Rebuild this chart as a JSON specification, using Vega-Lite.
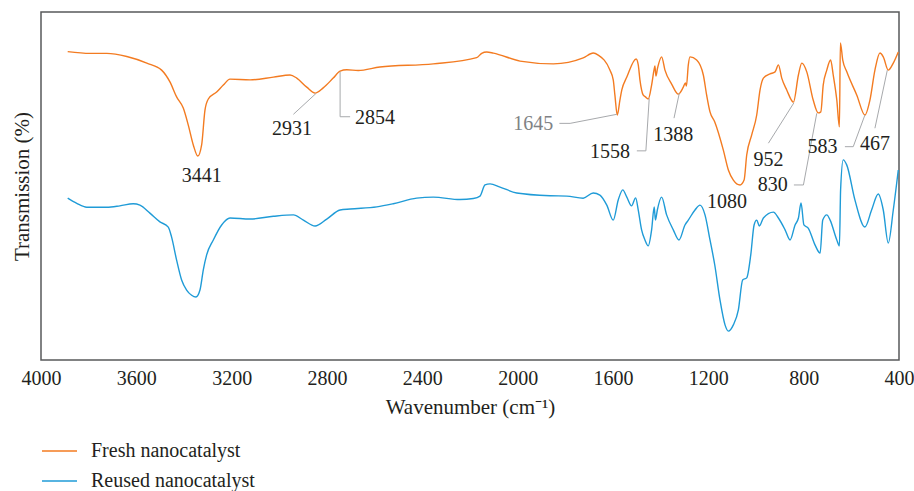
{
  "$schema": "https://vega.github.io/schema/vega-lite/v6.json",
  "autosize": "none",
  "width": 858,
  "height": 348,
  "padding": {"left": 41, "top": 12, "right": 15, "bottom": 131},
  "background": "white",
  "config": {
    "view": {"stroke": "#58595b", "strokeWidth": 1.5},
    "font": "Liberation Serif"
  },
  "datasets": {
    "spectra": [
      {"wavenumber": 3888, "transmission": 88.6, "series": "Fresh nanocatalyst"},
      {"wavenumber": 3794, "transmission": 88.1, "series": "Fresh nanocatalyst"},
      {"wavenumber": 3724, "transmission": 88.1, "series": "Fresh nanocatalyst"},
      {"wavenumber": 3640, "transmission": 87.2, "series": "Fresh nanocatalyst"},
      {"wavenumber": 3556, "transmission": 85.3, "series": "Fresh nanocatalyst"},
      {"wavenumber": 3494, "transmission": 83.3, "series": "Fresh nanocatalyst"},
      {"wavenumber": 3459, "transmission": 79.9, "series": "Fresh nanocatalyst"},
      {"wavenumber": 3431, "transmission": 75.6, "series": "Fresh nanocatalyst"},
      {"wavenumber": 3403, "transmission": 72.4, "series": "Fresh nanocatalyst"},
      {"wavenumber": 3382, "transmission": 67.5, "series": "Fresh nanocatalyst"},
      {"wavenumber": 3361, "transmission": 61.8, "series": "Fresh nanocatalyst"},
      {"wavenumber": 3342, "transmission": 58.6, "series": "Fresh nanocatalyst"},
      {"wavenumber": 3326, "transmission": 61.8, "series": "Fresh nanocatalyst"},
      {"wavenumber": 3312, "transmission": 71.8, "series": "Fresh nanocatalyst"},
      {"wavenumber": 3298, "transmission": 75.0, "series": "Fresh nanocatalyst"},
      {"wavenumber": 3263, "transmission": 77.0, "series": "Fresh nanocatalyst"},
      {"wavenumber": 3235, "transmission": 79.0, "series": "Fresh nanocatalyst"},
      {"wavenumber": 3207, "transmission": 80.7, "series": "Fresh nanocatalyst"},
      {"wavenumber": 3123, "transmission": 80.5, "series": "Fresh nanocatalyst"},
      {"wavenumber": 3025, "transmission": 81.3, "series": "Fresh nanocatalyst"},
      {"wavenumber": 2955, "transmission": 81.9, "series": "Fresh nanocatalyst"},
      {"wavenumber": 2927, "transmission": 81.0, "series": "Fresh nanocatalyst"},
      {"wavenumber": 2885, "transmission": 78.4, "series": "Fresh nanocatalyst"},
      {"wavenumber": 2850, "transmission": 76.7, "series": "Fresh nanocatalyst"},
      {"wavenumber": 2816, "transmission": 78.2, "series": "Fresh nanocatalyst"},
      {"wavenumber": 2774, "transmission": 81.0, "series": "Fresh nanocatalyst"},
      {"wavenumber": 2745, "transmission": 83.0, "series": "Fresh nanocatalyst"},
      {"wavenumber": 2717, "transmission": 83.4, "series": "Fresh nanocatalyst"},
      {"wavenumber": 2669, "transmission": 83.2, "series": "Fresh nanocatalyst"},
      {"wavenumber": 2578, "transmission": 84.2, "series": "Fresh nanocatalyst"},
      {"wavenumber": 2354, "transmission": 85.1, "series": "Fresh nanocatalyst"},
      {"wavenumber": 2172, "transmission": 86.9, "series": "Fresh nanocatalyst"},
      {"wavenumber": 2151, "transmission": 88.1, "series": "Fresh nanocatalyst"},
      {"wavenumber": 2130, "transmission": 88.5, "series": "Fresh nanocatalyst"},
      {"wavenumber": 2102, "transmission": 88.2, "series": "Fresh nanocatalyst"},
      {"wavenumber": 1990, "transmission": 85.9, "series": "Fresh nanocatalyst"},
      {"wavenumber": 1850, "transmission": 85.1, "series": "Fresh nanocatalyst"},
      {"wavenumber": 1725, "transmission": 86.8, "series": "Fresh nanocatalyst"},
      {"wavenumber": 1683, "transmission": 88.2, "series": "Fresh nanocatalyst"},
      {"wavenumber": 1662, "transmission": 87.6, "series": "Fresh nanocatalyst"},
      {"wavenumber": 1613, "transmission": 83.3, "series": "Fresh nanocatalyst"},
      {"wavenumber": 1599, "transmission": 80.5, "series": "Fresh nanocatalyst"},
      {"wavenumber": 1592, "transmission": 76.1, "series": "Fresh nanocatalyst"},
      {"wavenumber": 1582, "transmission": 70.4, "series": "Fresh nanocatalyst"},
      {"wavenumber": 1571, "transmission": 74.7, "series": "Fresh nanocatalyst"},
      {"wavenumber": 1563, "transmission": 77.6, "series": "Fresh nanocatalyst"},
      {"wavenumber": 1542, "transmission": 81.3, "series": "Fresh nanocatalyst"},
      {"wavenumber": 1503, "transmission": 86.5, "series": "Fresh nanocatalyst"},
      {"wavenumber": 1494, "transmission": 84.8, "series": "Fresh nanocatalyst"},
      {"wavenumber": 1487, "transmission": 80.5, "series": "Fresh nanocatalyst"},
      {"wavenumber": 1473, "transmission": 76.1, "series": "Fresh nanocatalyst"},
      {"wavenumber": 1464, "transmission": 75.6, "series": "Fresh nanocatalyst"},
      {"wavenumber": 1452, "transmission": 75.0, "series": "Fresh nanocatalyst"},
      {"wavenumber": 1438, "transmission": 79.0, "series": "Fresh nanocatalyst"},
      {"wavenumber": 1428, "transmission": 83.3, "series": "Fresh nanocatalyst"},
      {"wavenumber": 1424, "transmission": 84.5, "series": "Fresh nanocatalyst"},
      {"wavenumber": 1420, "transmission": 81.6, "series": "Fresh nanocatalyst"},
      {"wavenumber": 1413, "transmission": 83.9, "series": "Fresh nanocatalyst"},
      {"wavenumber": 1396, "transmission": 87.1, "series": "Fresh nanocatalyst"},
      {"wavenumber": 1382, "transmission": 83.3, "series": "Fresh nanocatalyst"},
      {"wavenumber": 1354, "transmission": 79.3, "series": "Fresh nanocatalyst"},
      {"wavenumber": 1326, "transmission": 76.4, "series": "Fresh nanocatalyst"},
      {"wavenumber": 1305, "transmission": 78.4, "series": "Fresh nanocatalyst"},
      {"wavenumber": 1296, "transmission": 79.6, "series": "Fresh nanocatalyst"},
      {"wavenumber": 1292, "transmission": 78.7, "series": "Fresh nanocatalyst"},
      {"wavenumber": 1284, "transmission": 84.8, "series": "Fresh nanocatalyst"},
      {"wavenumber": 1277, "transmission": 87.1, "series": "Fresh nanocatalyst"},
      {"wavenumber": 1249, "transmission": 86.2, "series": "Fresh nanocatalyst"},
      {"wavenumber": 1221, "transmission": 81.9, "series": "Fresh nanocatalyst"},
      {"wavenumber": 1207, "transmission": 76.1, "series": "Fresh nanocatalyst"},
      {"wavenumber": 1193, "transmission": 71.3, "series": "Fresh nanocatalyst"},
      {"wavenumber": 1173, "transmission": 68.4, "series": "Fresh nanocatalyst"},
      {"wavenumber": 1137, "transmission": 60.3, "series": "Fresh nanocatalyst"},
      {"wavenumber": 1116, "transmission": 54.6, "series": "Fresh nanocatalyst"},
      {"wavenumber": 1095, "transmission": 51.7, "series": "Fresh nanocatalyst"},
      {"wavenumber": 1067, "transmission": 50.3, "series": "Fresh nanocatalyst"},
      {"wavenumber": 1050, "transmission": 51.7, "series": "Fresh nanocatalyst"},
      {"wavenumber": 1039, "transmission": 58.9, "series": "Fresh nanocatalyst"},
      {"wavenumber": 1018, "transmission": 64.7, "series": "Fresh nanocatalyst"},
      {"wavenumber": 997, "transmission": 70.4, "series": "Fresh nanocatalyst"},
      {"wavenumber": 983, "transmission": 77.6, "series": "Fresh nanocatalyst"},
      {"wavenumber": 969, "transmission": 81.0, "series": "Fresh nanocatalyst"},
      {"wavenumber": 941, "transmission": 82.2, "series": "Fresh nanocatalyst"},
      {"wavenumber": 920, "transmission": 82.8, "series": "Fresh nanocatalyst"},
      {"wavenumber": 906, "transmission": 84.8, "series": "Fresh nanocatalyst"},
      {"wavenumber": 892, "transmission": 81.0, "series": "Fresh nanocatalyst"},
      {"wavenumber": 871, "transmission": 77.6, "series": "Fresh nanocatalyst"},
      {"wavenumber": 843, "transmission": 74.1, "series": "Fresh nanocatalyst"},
      {"wavenumber": 822, "transmission": 81.9, "series": "Fresh nanocatalyst"},
      {"wavenumber": 808, "transmission": 85.3, "series": "Fresh nanocatalyst"},
      {"wavenumber": 787, "transmission": 82.8, "series": "Fresh nanocatalyst"},
      {"wavenumber": 760, "transmission": 74.7, "series": "Fresh nanocatalyst"},
      {"wavenumber": 739, "transmission": 71.0, "series": "Fresh nanocatalyst"},
      {"wavenumber": 728, "transmission": 71.3, "series": "Fresh nanocatalyst"},
      {"wavenumber": 718, "transmission": 79.0, "series": "Fresh nanocatalyst"},
      {"wavenumber": 703, "transmission": 83.3, "series": "Fresh nanocatalyst"},
      {"wavenumber": 687, "transmission": 86.2, "series": "Fresh nanocatalyst"},
      {"wavenumber": 676, "transmission": 81.9, "series": "Fresh nanocatalyst"},
      {"wavenumber": 661, "transmission": 74.7, "series": "Fresh nanocatalyst"},
      {"wavenumber": 650, "transmission": 67.0, "series": "Fresh nanocatalyst"},
      {"wavenumber": 646, "transmission": 91.1, "series": "Fresh nanocatalyst"},
      {"wavenumber": 636, "transmission": 86.2, "series": "Fresh nanocatalyst"},
      {"wavenumber": 619, "transmission": 82.8, "series": "Fresh nanocatalyst"},
      {"wavenumber": 577, "transmission": 76.1, "series": "Fresh nanocatalyst"},
      {"wavenumber": 543, "transmission": 70.4, "series": "Fresh nanocatalyst"},
      {"wavenumber": 522, "transmission": 74.7, "series": "Fresh nanocatalyst"},
      {"wavenumber": 501, "transmission": 83.3, "series": "Fresh nanocatalyst"},
      {"wavenumber": 480, "transmission": 88.2, "series": "Fresh nanocatalyst"},
      {"wavenumber": 466, "transmission": 87.1, "series": "Fresh nanocatalyst"},
      {"wavenumber": 445, "transmission": 83.3, "series": "Fresh nanocatalyst"},
      {"wavenumber": 424, "transmission": 85.3, "series": "Fresh nanocatalyst"},
      {"wavenumber": 403, "transmission": 88.5, "series": "Fresh nanocatalyst"},

      {"wavenumber": 3888, "transmission": 46.5, "series": "Reused nanocatalyst"},
      {"wavenumber": 3850, "transmission": 45.0, "series": "Reused nanocatalyst"},
      {"wavenumber": 3808, "transmission": 43.9, "series": "Reused nanocatalyst"},
      {"wavenumber": 3724, "transmission": 43.9, "series": "Reused nanocatalyst"},
      {"wavenumber": 3669, "transmission": 44.3, "series": "Reused nanocatalyst"},
      {"wavenumber": 3613, "transmission": 44.9, "series": "Reused nanocatalyst"},
      {"wavenumber": 3585, "transmission": 44.5, "series": "Reused nanocatalyst"},
      {"wavenumber": 3543, "transmission": 42.2, "series": "Reused nanocatalyst"},
      {"wavenumber": 3501, "transmission": 39.7, "series": "Reused nanocatalyst"},
      {"wavenumber": 3466, "transmission": 38.2, "series": "Reused nanocatalyst"},
      {"wavenumber": 3452, "transmission": 35.3, "series": "Reused nanocatalyst"},
      {"wavenumber": 3431, "transmission": 28.7, "series": "Reused nanocatalyst"},
      {"wavenumber": 3410, "transmission": 23.0, "series": "Reused nanocatalyst"},
      {"wavenumber": 3389, "transmission": 20.1, "series": "Reused nanocatalyst"},
      {"wavenumber": 3368, "transmission": 18.6, "series": "Reused nanocatalyst"},
      {"wavenumber": 3350, "transmission": 18.1, "series": "Reused nanocatalyst"},
      {"wavenumber": 3333, "transmission": 20.1, "series": "Reused nanocatalyst"},
      {"wavenumber": 3319, "transmission": 25.9, "series": "Reused nanocatalyst"},
      {"wavenumber": 3305, "transmission": 30.2, "series": "Reused nanocatalyst"},
      {"wavenumber": 3277, "transmission": 34.5, "series": "Reused nanocatalyst"},
      {"wavenumber": 3242, "transmission": 38.8, "series": "Reused nanocatalyst"},
      {"wavenumber": 3207, "transmission": 40.8, "series": "Reused nanocatalyst"},
      {"wavenumber": 3123, "transmission": 40.5, "series": "Reused nanocatalyst"},
      {"wavenumber": 3025, "transmission": 41.3, "series": "Reused nanocatalyst"},
      {"wavenumber": 2941, "transmission": 41.7, "series": "Reused nanocatalyst"},
      {"wavenumber": 2899, "transmission": 40.2, "series": "Reused nanocatalyst"},
      {"wavenumber": 2850, "transmission": 38.5, "series": "Reused nanocatalyst"},
      {"wavenumber": 2801, "transmission": 40.5, "series": "Reused nanocatalyst"},
      {"wavenumber": 2745, "transmission": 43.1, "series": "Reused nanocatalyst"},
      {"wavenumber": 2703, "transmission": 43.4, "series": "Reused nanocatalyst"},
      {"wavenumber": 2591, "transmission": 44.0, "series": "Reused nanocatalyst"},
      {"wavenumber": 2522, "transmission": 44.9, "series": "Reused nanocatalyst"},
      {"wavenumber": 2424, "transmission": 46.5, "series": "Reused nanocatalyst"},
      {"wavenumber": 2354, "transmission": 46.8, "series": "Reused nanocatalyst"},
      {"wavenumber": 2242, "transmission": 46.1, "series": "Reused nanocatalyst"},
      {"wavenumber": 2186, "transmission": 46.4, "series": "Reused nanocatalyst"},
      {"wavenumber": 2158, "transmission": 47.1, "series": "Reused nanocatalyst"},
      {"wavenumber": 2137, "transmission": 50.3, "series": "Reused nanocatalyst"},
      {"wavenumber": 2116, "transmission": 50.6, "series": "Reused nanocatalyst"},
      {"wavenumber": 2074, "transmission": 49.7, "series": "Reused nanocatalyst"},
      {"wavenumber": 2004, "transmission": 48.0, "series": "Reused nanocatalyst"},
      {"wavenumber": 1864, "transmission": 47.2, "series": "Reused nanocatalyst"},
      {"wavenumber": 1794, "transmission": 47.1, "series": "Reused nanocatalyst"},
      {"wavenumber": 1725, "transmission": 46.5, "series": "Reused nanocatalyst"},
      {"wavenumber": 1683, "transmission": 48.0, "series": "Reused nanocatalyst"},
      {"wavenumber": 1655, "transmission": 47.4, "series": "Reused nanocatalyst"},
      {"wavenumber": 1626, "transmission": 44.5, "series": "Reused nanocatalyst"},
      {"wavenumber": 1599, "transmission": 40.2, "series": "Reused nanocatalyst"},
      {"wavenumber": 1578, "transmission": 46.0, "series": "Reused nanocatalyst"},
      {"wavenumber": 1559, "transmission": 48.9, "series": "Reused nanocatalyst"},
      {"wavenumber": 1542, "transmission": 46.8, "series": "Reused nanocatalyst"},
      {"wavenumber": 1522, "transmission": 44.3, "series": "Reused nanocatalyst"},
      {"wavenumber": 1505, "transmission": 46.6, "series": "Reused nanocatalyst"},
      {"wavenumber": 1494, "transmission": 43.1, "series": "Reused nanocatalyst"},
      {"wavenumber": 1480, "transmission": 37.4, "series": "Reused nanocatalyst"},
      {"wavenumber": 1466, "transmission": 34.5, "series": "Reused nanocatalyst"},
      {"wavenumber": 1452, "transmission": 32.8, "series": "Reused nanocatalyst"},
      {"wavenumber": 1438, "transmission": 37.4, "series": "Reused nanocatalyst"},
      {"wavenumber": 1427, "transmission": 44.0, "series": "Reused nanocatalyst"},
      {"wavenumber": 1422, "transmission": 40.2, "series": "Reused nanocatalyst"},
      {"wavenumber": 1414, "transmission": 43.1, "series": "Reused nanocatalyst"},
      {"wavenumber": 1396, "transmission": 46.8, "series": "Reused nanocatalyst"},
      {"wavenumber": 1375, "transmission": 41.7, "series": "Reused nanocatalyst"},
      {"wavenumber": 1347, "transmission": 37.4, "series": "Reused nanocatalyst"},
      {"wavenumber": 1323, "transmission": 34.5, "series": "Reused nanocatalyst"},
      {"wavenumber": 1298, "transmission": 38.8, "series": "Reused nanocatalyst"},
      {"wavenumber": 1284, "transmission": 40.2, "series": "Reused nanocatalyst"},
      {"wavenumber": 1256, "transmission": 43.1, "series": "Reused nanocatalyst"},
      {"wavenumber": 1235, "transmission": 44.5, "series": "Reused nanocatalyst"},
      {"wavenumber": 1214, "transmission": 41.7, "series": "Reused nanocatalyst"},
      {"wavenumber": 1193, "transmission": 34.5, "series": "Reused nanocatalyst"},
      {"wavenumber": 1173, "transmission": 27.3, "series": "Reused nanocatalyst"},
      {"wavenumber": 1151, "transmission": 17.2, "series": "Reused nanocatalyst"},
      {"wavenumber": 1130, "transmission": 10.1, "series": "Reused nanocatalyst"},
      {"wavenumber": 1116, "transmission": 8.3, "series": "Reused nanocatalyst"},
      {"wavenumber": 1095, "transmission": 10.1, "series": "Reused nanocatalyst"},
      {"wavenumber": 1074, "transmission": 14.4, "series": "Reused nanocatalyst"},
      {"wavenumber": 1056, "transmission": 23.0, "series": "Reused nanocatalyst"},
      {"wavenumber": 1039, "transmission": 23.6, "series": "Reused nanocatalyst"},
      {"wavenumber": 1022, "transmission": 30.2, "series": "Reused nanocatalyst"},
      {"wavenumber": 1008, "transmission": 38.8, "series": "Reused nanocatalyst"},
      {"wavenumber": 997, "transmission": 40.2, "series": "Reused nanocatalyst"},
      {"wavenumber": 986, "transmission": 38.5, "series": "Reused nanocatalyst"},
      {"wavenumber": 969, "transmission": 40.8, "series": "Reused nanocatalyst"},
      {"wavenumber": 927, "transmission": 42.5, "series": "Reused nanocatalyst"},
      {"wavenumber": 906, "transmission": 40.8, "series": "Reused nanocatalyst"},
      {"wavenumber": 878, "transmission": 37.4, "series": "Reused nanocatalyst"},
      {"wavenumber": 857, "transmission": 34.5, "series": "Reused nanocatalyst"},
      {"wavenumber": 836, "transmission": 38.8, "series": "Reused nanocatalyst"},
      {"wavenumber": 822, "transmission": 40.8, "series": "Reused nanocatalyst"},
      {"wavenumber": 811, "transmission": 45.1, "series": "Reused nanocatalyst"},
      {"wavenumber": 799, "transmission": 38.8, "series": "Reused nanocatalyst"},
      {"wavenumber": 781, "transmission": 37.9, "series": "Reused nanocatalyst"},
      {"wavenumber": 752, "transmission": 33.0, "series": "Reused nanocatalyst"},
      {"wavenumber": 731, "transmission": 30.7, "series": "Reused nanocatalyst"},
      {"wavenumber": 720, "transmission": 40.2, "series": "Reused nanocatalyst"},
      {"wavenumber": 703, "transmission": 41.7, "series": "Reused nanocatalyst"},
      {"wavenumber": 689, "transmission": 40.2, "series": "Reused nanocatalyst"},
      {"wavenumber": 661, "transmission": 34.5, "series": "Reused nanocatalyst"},
      {"wavenumber": 650, "transmission": 32.8, "series": "Reused nanocatalyst"},
      {"wavenumber": 645, "transmission": 48.9, "series": "Reused nanocatalyst"},
      {"wavenumber": 634, "transmission": 57.5, "series": "Reused nanocatalyst"},
      {"wavenumber": 619, "transmission": 56.0, "series": "Reused nanocatalyst"},
      {"wavenumber": 585, "transmission": 46.0, "series": "Reused nanocatalyst"},
      {"wavenumber": 543, "transmission": 38.2, "series": "Reused nanocatalyst"},
      {"wavenumber": 515, "transmission": 43.1, "series": "Reused nanocatalyst"},
      {"wavenumber": 487, "transmission": 47.7, "series": "Reused nanocatalyst"},
      {"wavenumber": 466, "transmission": 43.1, "series": "Reused nanocatalyst"},
      {"wavenumber": 445, "transmission": 33.6, "series": "Reused nanocatalyst"},
      {"wavenumber": 424, "transmission": 43.1, "series": "Reused nanocatalyst"},
      {"wavenumber": 403, "transmission": 54.6, "series": "Reused nanocatalyst"}
    ],
    "peakLabels": [
      {"text": "3441", "wavenumber": 3326, "transmission": 53.0, "tone": "normal"},
      {"text": "2931", "wavenumber": 2947, "transmission": 66.4, "tone": "normal"},
      {"text": "2854", "wavenumber": 2599, "transmission": 69.5, "tone": "normal"},
      {"text": "1645", "wavenumber": 1935, "transmission": 67.8, "tone": "muted"},
      {"text": "1558", "wavenumber": 1613, "transmission": 59.9, "tone": "normal"},
      {"text": "1388", "wavenumber": 1347, "transmission": 64.7, "tone": "normal"},
      {"text": "1080", "wavenumber": 1122, "transmission": 45.5, "tone": "normal"},
      {"text": "952", "wavenumber": 948, "transmission": 57.5, "tone": "normal"},
      {"text": "830", "wavenumber": 930, "transmission": 50.3, "tone": "normal"},
      {"text": "583", "wavenumber": 721, "transmission": 61.3, "tone": "normal"},
      {"text": "467", "wavenumber": 501, "transmission": 62.1, "tone": "normal"}
    ],
    "leaders": [
      {"peak": "2931", "seq": 1, "wavenumber": 2941, "transmission": 70.6},
      {"peak": "2931", "seq": 2, "wavenumber": 2846, "transmission": 76.6},
      {"peak": "2854", "seq": 1, "wavenumber": 2703, "transmission": 69.9},
      {"peak": "2854", "seq": 2, "wavenumber": 2745, "transmission": 69.9},
      {"peak": "2854", "seq": 3, "wavenumber": 2745, "transmission": 82.8},
      {"peak": "1645", "seq": 1, "wavenumber": 1825, "transmission": 68.0},
      {"peak": "1645", "seq": 2, "wavenumber": 1780, "transmission": 68.0},
      {"peak": "1645", "seq": 3, "wavenumber": 1584, "transmission": 70.6},
      {"peak": "1558", "seq": 1, "wavenumber": 1500, "transmission": 60.1},
      {"peak": "1558", "seq": 2, "wavenumber": 1462, "transmission": 60.1},
      {"peak": "1558", "seq": 3, "wavenumber": 1448, "transmission": 75.2},
      {"peak": "1388", "seq": 1, "wavenumber": 1344, "transmission": 69.5},
      {"peak": "1388", "seq": 2, "wavenumber": 1322, "transmission": 76.6},
      {"peak": "952", "seq": 1, "wavenumber": 948, "transmission": 62.3},
      {"peak": "952", "seq": 2, "wavenumber": 841, "transmission": 73.9},
      {"peak": "830", "seq": 1, "wavenumber": 841, "transmission": 50.3},
      {"peak": "830", "seq": 2, "wavenumber": 801, "transmission": 50.3},
      {"peak": "830", "seq": 3, "wavenumber": 745, "transmission": 70.9},
      {"peak": "583", "seq": 1, "wavenumber": 627, "transmission": 61.3},
      {"peak": "583", "seq": 2, "wavenumber": 592, "transmission": 61.3},
      {"peak": "583", "seq": 3, "wavenumber": 543, "transmission": 70.4},
      {"peak": "467", "seq": 1, "wavenumber": 501, "transmission": 66.6},
      {"peak": "467", "seq": 2, "wavenumber": 449, "transmission": 83.3}
    ]
  },
  "encoding": {
    "x": {
      "field": "wavenumber",
      "type": "quantitative",
      "scale": {"domain": [400, 4000], "reverse": true, "nice": false, "zero": false},
      "axis": {
        "values": [4000, 3600, 3200, 2800, 2400, 2000, 1600, 1200, 800, 400],
        "format": "d",
        "title": "Wavenumber (cm⁻¹)",
        "domain": false,
        "ticks": false,
        "grid": false,
        "labelFont": "Liberation Serif",
        "labelFontSize": 20,
        "labelColor": "#231f20",
        "labelPadding": 8,
        "labelFlush": false,
        "titleFont": "Liberation Serif",
        "titleFontSize": 21,
        "titleFontWeight": "normal",
        "titleColor": "#231f20",
        "titlePadding": 8
      }
    },
    "y": {
      "field": "transmission",
      "type": "quantitative",
      "scale": {"domain": [0, 100], "nice": false},
      "axis": {
        "title": "Transmission (%)",
        "labels": false,
        "ticks": false,
        "domain": false,
        "grid": false,
        "titleFont": "Liberation Serif",
        "titleFontSize": 21,
        "titleFontWeight": "normal",
        "titleColor": "#231f20",
        "titlePadding": 9
      }
    }
  },
  "layer": [
    {
      "data": {"name": "spectra"},
      "mark": {"type": "line", "interpolate": "monotone", "strokeWidth": 1.4},
      "encoding": {
        "color": {
          "field": "series",
          "type": "nominal",
          "scale": {
            "domain": ["Fresh nanocatalyst", "Reused nanocatalyst"],
            "range": ["#f37b21", "#1f9bd7"]
          },
          "legend": {
            "title": null,
            "orient": "none",
            "legendX": 7.5,
            "legendY": 428,
            "direction": "vertical",
            "symbolType": "M-1.75,0H1.75",
            "symbolSize": 400,
            "symbolStrokeWidth": 1.5,
            "labelFont": "Liberation Serif",
            "labelFontSize": 20,
            "labelColor": "#231f20",
            "labelOffset": 20.5,
            "labelLimit": 400,
            "rowPadding": 9
          }
        }
      }
    },
    {
      "data": {"name": "leaders"},
      "mark": {"type": "line", "stroke": "#a7a9ac", "strokeWidth": 1},
      "encoding": {
        "detail": {"field": "peak", "type": "nominal"},
        "order": {"field": "seq", "type": "quantitative"}
      }
    },
    {
      "data": {"name": "peakLabels"},
      "mark": {"type": "text", "font": "Liberation Serif", "fontSize": 20, "align": "center", "baseline": "middle"},
      "encoding": {
        "text": {"field": "text", "type": "nominal"},
        "color": {
          "condition": {"test": "datum.tone === 'muted'", "value": "#808285"},
          "value": "#231f20"
        }
      }
    }
  ]
}
